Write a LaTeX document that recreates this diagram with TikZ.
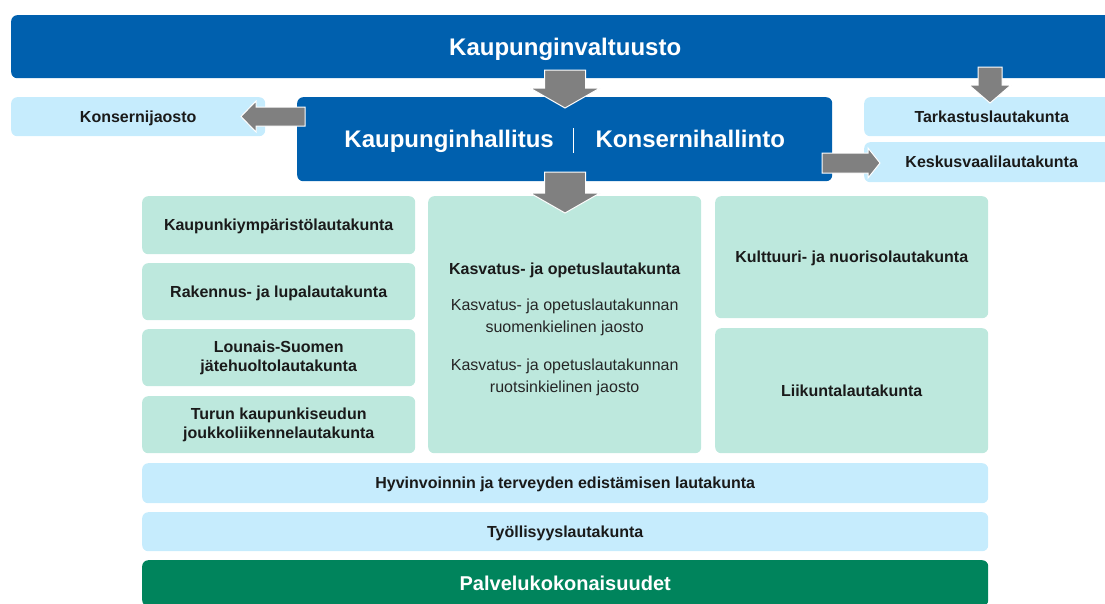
\documentclass[tikz,border=0pt]{standalone}
\usepackage{fontspec}
\setmainfont{Liberation Sans}
\usetikzlibrary{calc}
\definecolor{dblue}{HTML}{0060AE}
\definecolor{lblue}{HTML}{C6ECFD}
\definecolor{mint}{HTML}{BDE8DD}
\definecolor{dgreen}{HTML}{00845C}
\definecolor{agray}{HTML}{808080}
\definecolor{txt}{HTML}{1A1A1A}
\definecolor{txtreg}{HTML}{262626}
\newcommand\pptstrut{\rule[-0.212em]{0pt}{1.117em}}
\newcommand\fatarrow[6]{%
  \begin{scope}[shift={(#1)}, x=1pt, y=1pt, rotate=#2]
    \filldraw[fill=agray, draw=white, line width=1pt, line join=miter]
      (0,0) -- (-#5,#6) -- (-#5,#4) -- (-#3,#4) -- (-#3,-#4) -- (-#5,-#4) -- (-#5,-#6) -- cycle;
  \end{scope}}
\begin{document}
\begin{tikzpicture}[x=1pt,y=-1pt,
  box/.style={rounded corners=6pt, inner sep=0pt, anchor=north west, align=center, text=txt,
    font=\fontsize{16}{19.5}\selectfont\bfseries,
    execute at begin node={\pptstrut}, execute at end node={\pptstrut}},
  lb/.style={box, fill=lblue},
  mb/.style={box, fill=mint},
  db/.style={box, fill=dblue, text=white, font=\fontsize{24}{28}\selectfont\bfseries},
  gb/.style={box, fill=dgreen, text=white, font=\fontsize{20}{24}\selectfont\bfseries}
]
\useasboundingbox (0,0) rectangle (1105,603);
\clip (0,0) rectangle (1105,603);

\node[db, minimum width=1108pt, minimum height=63pt] (kv) at (11,15) {Kaupunginvaltuusto};
\node[lb, minimum width=254pt, minimum height=39pt] (kj) at (11,97) {Konsernijaosto};
\node[db, minimum width=535pt, minimum height=84pt] (kh) at (297,97)
  {Kaupunginhallitus\hspace{19pt}\rule[-5pt]{0.8pt}{25pt}\hspace{22pt}Konsernihallinto};
\node[lb, minimum width=255pt, minimum height=39pt] (tl) at (864,97) {Tarkastuslautakunta};
\node[lb, minimum width=255pt, minimum height=40pt] (kvl) at (864,142) {Keskusvaalilautakunta};

\node[mb, minimum width=273pt, minimum height=58pt] (l1) at (142,196) {Kaupunkiympäristölautakunta};
\node[mb, minimum width=273pt, minimum height=57pt] (l2) at (142,263) {Rakennus- ja lupalautakunta};
\node[mb, minimum width=273pt, minimum height=57pt] (l3) at (142,329) {Lounais-Suomen\\jätehuoltolautakunta};
\node[mb, minimum width=273pt, minimum height=57pt] (l4) at (142,396) {Turun kaupunkiseudun\\joukkoliikennelautakunta};

\node[mb, minimum width=273pt, minimum height=257pt, text=txtreg,
      font=\fontsize{16}{22}\selectfont\mdseries] (ko) at (428,196)
  {\rule{0pt}{21.5pt}\textbf{\color{txt}Kasvatus- ja opetuslautakunta}\\[14pt]
   Kasvatus- ja opetuslautakunnan\\
   suomenkielinen jaosto\\[16pt]
   Kasvatus- ja opetuslautakunnan\\
   ruotsinkielinen jaosto};

\node[mb, minimum width=273pt, minimum height=122pt] (r1) at (715,196) {Kulttuuri- ja nuorisolautakunta};
\node[mb, minimum width=273pt, minimum height=125pt] (r2) at (715,328) {Liikuntalautakunta};

\node[lb, minimum width=846pt, minimum height=40pt] (hy) at (142,463) {Hyvinvoinnin ja terveyden edistämisen lautakunta};
\node[lb, minimum width=846pt, minimum height=39pt] (ty) at (142,512) {Työllisyyslautakunta};
\node[gb, minimum width=846pt, minimum height=46pt] (pk) at (142,560) {Palvelukokonaisuudet};

% arrows
\coordinate (t1) at (565,108);
\coordinate (t2) at (565,213);
\coordinate (t3) at (990,103);
\coordinate (t4) at (880,163);
\coordinate (t5) at (241,116.5);
\fatarrow{t1}{-90}{38}{20.5}{20}{35}
\fatarrow{t2}{-90}{41}{20.5}{20}{35}
\fatarrow{t3}{-90}{36}{12}{18}{21}
\fatarrow{t4}{0}{58}{10}{12}{15}
\fatarrow{t5}{180}{64}{9.5}{15}{15.5}
\end{tikzpicture}
\end{document}
